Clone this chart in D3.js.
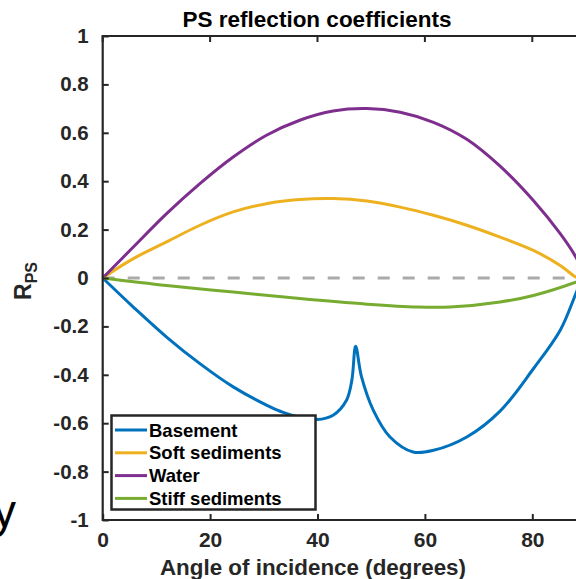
<!DOCTYPE html>
<html>
<head>
<meta charset="utf-8">
<script src="https://cdn.jsdelivr.net/npm/d3@7"></script>
<style>
  body { margin: 0; background: #fff; }
  svg { display: block; font-family: "Liberation Sans", Arial, Helvetica, sans-serif; }
</style>
</head>
<body>
<div id="chart"></div>
<script>
// angles (degrees) and R_PS values
const waterAngle = [0, 5.7, 11.9, 18.1, 24.3, 30.5, 36.7, 42.9, 49.2, 55.4, 61.6, 67.8, 74.0, 80.2, 85.2, 88.1, 90];
const waterR     = [0, 0.128, 0.266, 0.39, 0.50, 0.59, 0.652, 0.69, 0.70, 0.685, 0.643, 0.573, 0.462, 0.32, 0.183, 0.087, 0];

const softAngle = [0, 5.7, 11.9, 18.1, 24.3, 30.5, 36.7, 42.9, 49.2, 55.4, 61.6, 67.8, 74.0, 80.2, 85.2, 88.1, 90];
const softR     = [0, 0.08, 0.149, 0.218, 0.273, 0.307, 0.324, 0.328, 0.318, 0.293, 0.259, 0.218, 0.169, 0.114, 0.052, 0.004, -0.01];

const stiffAngle = [0, 11.9, 24.3, 36.7, 49.2, 58.5, 64.7, 74.0, 80.2, 88.1, 90];
const stiffR     = [0, -0.031, -0.058, -0.085, -0.108, -0.12, -0.12, -0.099, -0.072, -0.017, 0];

const baseAngle = [0, 5.7, 11.9, 18.1, 24.3, 30.5, 33.6, 36.7, 39.9, 42.9, 45.4, 46.4, 47.1, 48.2, 50.4, 53.5, 57.8, 61.6, 67.8, 74.0, 80.2, 85.2, 88.1, 90];
const baseR     = [0, -0.12, -0.244, -0.354, -0.45, -0.525, -0.555, -0.575, -0.585, -0.567, -0.505, -0.422, -0.282, -0.409, -0.547, -0.657, -0.719, -0.712, -0.657, -0.55, -0.375, -0.216, -0.065, 0.04];

const seriesNames = ["Basement", "Soft sediments", "Water", "Stiff sediments"];
const seriesColors = ["#0072BD", "#EDB120", "#7E2F8E", "#77AC30"];

const xTicks = [0, 20, 40, 60, 80];
const yTicks = [-1, -0.8, -0.6, -0.4, -0.2, 0, 0.2, 0.4, 0.6, 0.8, 1];

const width = 576, height = 579;
const axisColor = "#262626";

const svg = d3.select("#chart").append("svg")
  .attr("width", width)
  .attr("height", height);

const x = d3.scaleLinear().domain([0, 90]).range([102.7, 586]);
const y = d3.scaleLinear().domain([-1, 1]).range([520, 36]);

// zero reference line
svg.append("line")
  .attr("x1", x(0)).attr("x2", x(90))
  .attr("y1", y(0)).attr("y2", y(0))
  .attr("stroke", "#aaaaaa")
  .attr("stroke-width", 3)
  .attr("stroke-dasharray", "12,13");

// curves
const zip = (a, r) => a.map((d, i) => ({ a: d, r: r[i] }));
const curves = [
  zip(baseAngle, baseR),
  zip(softAngle, softR),
  zip(waterAngle, waterR),
  zip(stiffAngle, stiffR)
];
const line = d3.line()
  .x(d => x(d.a))
  .y(d => y(d.r))
  .curve(d3.curveCatmullRom.alpha(0.5));

svg.append("g")
  .selectAll("path")
  .data(curves)
  .join("path")
  .attr("d", line)
  .attr("fill", "none")
  .attr("stroke", (d, i) => seriesColors[i])
  .attr("stroke-width", 3)
  .attr("stroke-linejoin", "round");

// axes, ticks point inward like matlab
const fmt = d => d === 0 ? "0" : String(+d.toFixed(1));

const yAxis = svg.append("g")
  .attr("transform", `translate(${x(0)},0)`)
  .call(d3.axisLeft(y).tickValues(yTicks).tickSize(-6).tickPadding(14).tickFormat(fmt));
yAxis.select(".domain").remove();
yAxis.selectAll("line").attr("stroke", axisColor).attr("stroke-width", 2);
yAxis.selectAll("text")
  .attr("fill", axisColor)
  .style("font-size", "20.5px")
  .style("font-weight", "bold");

const xAxis = svg.append("g")
  .attr("transform", `translate(0,${y(-1)})`)
  .call(d3.axisBottom(x).tickValues(xTicks).tickSize(-6).tickFormat(d3.format("d")));
xAxis.select(".domain").remove();
xAxis.selectAll("line").attr("stroke", axisColor).attr("stroke-width", 2);
xAxis.selectAll("text")
  .attr("y", 27)
  .attr("dy", 0)
  .attr("fill", axisColor)
  .style("font-size", "21px")
  .style("font-weight", "bold");

// top ticks
svg.append("g")
  .selectAll("line")
  .data(xTicks)
  .join("line")
  .attr("x1", d => x(d)).attr("x2", d => x(d))
  .attr("y1", y(1)).attr("y2", y(1) + 6)
  .attr("stroke", axisColor)
  .attr("stroke-width", 2);

// box
svg.append("path")
  .attr("d", `M${x(90)},${y(1)}H${x(0)}V${y(-1)}H${x(90)}`)
  .attr("fill", "none")
  .attr("stroke", axisColor)
  .attr("stroke-width", 2.2);

// title and labels
svg.append("text")
  .attr("x", 317).attr("y", 27)
  .attr("text-anchor", "middle")
  .style("font-size", "22.5px")
  .style("font-weight", "bold")
  .text("PS reflection coefficients");

svg.append("text")
  .attr("x", 313).attr("y", 575)
  .attr("text-anchor", "middle")
  .attr("fill", axisColor)
  .style("font-size", "22.4px")
  .style("font-weight", "bold")
  .text("Angle of incidence (degrees)");

const yl = svg.append("text")
  .attr("transform", "translate(31,281) rotate(-90)")
  .attr("text-anchor", "middle")
  .attr("fill", axisColor)
  .style("font-size", "23px")
  .style("font-weight", "bold");
yl.append("tspan").text("R");
yl.append("tspan").attr("dy", 6).style("font-size", "16px").text("PS");

// legend
const lg = svg.append("g");
lg.append("rect")
  .attr("x", 111.5).attr("y", 415.5)
  .attr("width", 204).attr("height", 94)
  .attr("fill", "#fff")
  .attr("stroke", axisColor)
  .attr("stroke-width", 2.5);
const rows = lg.selectAll("g.row")
  .data(seriesNames)
  .join("g")
  .attr("class", "row")
  .attr("transform", (d, i) => `translate(0,${430 + i * 22.8})`);
rows.append("line")
  .attr("x1", 115).attr("x2", 147)
  .attr("stroke", (d, i) => seriesColors[i])
  .attr("stroke-width", 3);
rows.append("text")
  .attr("x", 149)
  .attr("dy", "0.36em")
  .style("font-size", "18.5px")
  .style("font-weight", "bold")
  .text(d => d);

// stray glyph at the left edge of the source image
svg.append("text")
  .attr("x", -7).attr("y", 527)
  .style("font-size", "46px")
  .text("y");
</script>
</body>
</html>
